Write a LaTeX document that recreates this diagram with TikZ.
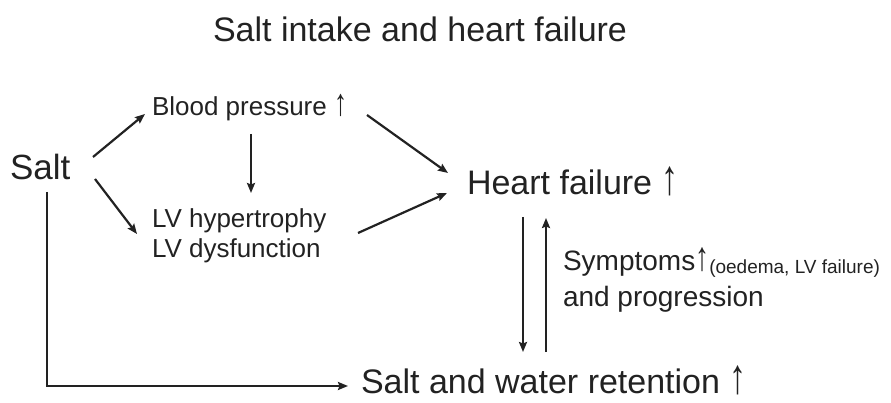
\documentclass[tikz,border=0pt]{standalone}
\usepackage{fontspec}
\setmainfont{Liberation Sans}
\usetikzlibrary{arrows.meta}
\definecolor{ink}{HTML}{222222}
\newcommand\fsz[1]{\fontsize{#1}{#1}\selectfont}
\newcommand\upar{\scalebox{1}[1.45]{↑}}
\begin{document}
\begin{tikzpicture}[x=1pt,y=-1pt,
  lbl/.style={inner sep=0pt, outer sep=0pt, anchor=base west, text=ink},
  conn/.style={draw=ink, line width=2.2pt, -{Stealth[length=10pt,width=8pt,inset=1.5pt]}}]
\useasboundingbox (0,0) rectangle (891,403);
% texts
\node[lbl, anchor=base] (title) at (420,42) {\fsz{34}Salt intake and heart failure};
\node[lbl] (salt) at (10,180) {\fsz{35}Salt};
\node[lbl] (bp) at (152,116) {\fsz{26}Blood pressure \upar};
\node[lbl] (lv) at (152,228) {\fsz{26}LV hypertrophy};
\node[lbl] (lvb) at (152,258) {\fsz{26}LV dysfunction};
\node[lbl] (hf) at (467,195) {\fsz{34}Heart failure \upar};
\node[lbl] (swr) at (361,393) {\fsz{34}Salt and water retention \upar};
\node[lbl] (sym) at (563,270) {\fsz{28}Symptoms\upar\raisebox{-3pt}{\fsz{19}(oedema, LV failure)}};
\node[lbl] (prog) at (563,306) {\fsz{28}and progression};
% connectors
\draw[conn] ([shift={(83,-23)}]salt.base west) -- ([shift={(-7,-2)}]bp.base west);
\draw[conn] ([shift={(85,-1)}]salt.base west) -- ([shift={(-15,6)}]lv.base west);
\draw[conn] ([shift={(99,18)}]bp.base west) -- ([shift={(99,-35)}]lv.base west);
\draw[conn] ([shift={(215,-1)}]bp.base west) -- ([shift={(-19,-22)}]hf.base west);
\draw[conn] ([shift={(206,5)}]lv.base west) -- ([shift={(-20,-2)}]hf.base west);
\draw[conn] ([shift={(37,12)}]salt.base west) |- ([shift={(-13,-7)}]swr.base west);
\draw[conn] ([shift={(56,22)}]hf.base west) -- ([shift={(162,-41)}]swr.base west);
\draw[conn] ([shift={(185,-41)}]swr.base west) -- ([shift={(79,23)}]hf.base west);
\end{tikzpicture}
\end{document}
